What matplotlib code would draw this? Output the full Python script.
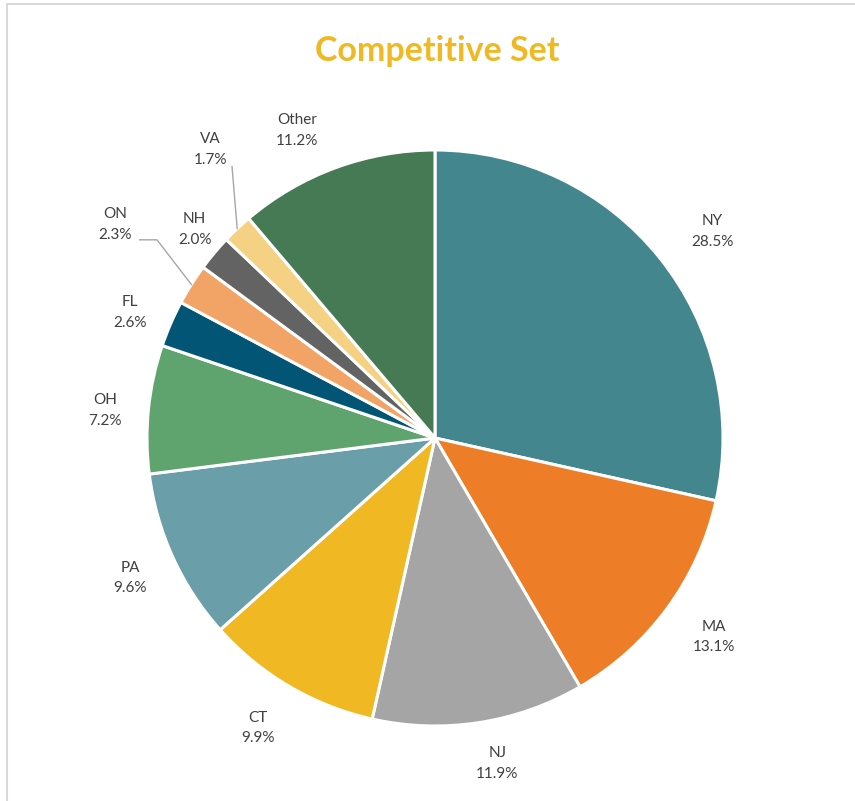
import matplotlib.pyplot as plt
import numpy as np
from matplotlib.lines import Line2D

# data
states = ['NY', 'MA', 'NJ', 'CT', 'PA', 'OH', 'FL', 'ON', 'NH', 'VA', 'Other']
shares = [28.5, 13.1, 11.9, 9.9, 9.6, 7.2, 2.6, 2.3, 2.0, 1.7, 11.2]
colors = ['#43868E', '#ED7D27', '#A5A5A5', '#F0B823', '#6A9FAA', '#5FA36E',
          '#035575', '#F2A366', '#636363', '#F5D184', '#467A55']

# label placement (radius, angle shift in degrees) per slice
lab_r = [1.20, 1.19, 1.15, 1.18, 1.165, 1.15, 1.145, 1.335, 1.105, 1.27, 1.17]
lab_da = [-2, 0.7, 2, -1, 0.2, 1, 1, -1.5, -1, -5.5, 4]
leader = ['ON', 'VA']

plt.rcParams['font.family'] = ['Lato', 'DejaVu Sans']

fig = plt.figure(figsize=(8.55, 8.01), dpi=100)
ax = fig.add_axes([147 / 855, 75 / 801, 576 / 855, 576 / 801])

wedges, _ = ax.pie(shares, colors=colors, startangle=90, counterclock=False,
                   radius=1.0, wedgeprops=dict(edgecolor='white', linewidth=2.2))
ax.set_xlim(-1, 1)
ax.set_ylim(-1, 1)
ax.set_aspect('equal')
ax.axis('off')

for w, name, val, r, da in zip(wedges, states, shares, lab_r, lab_da):
    mid = np.deg2rad((w.theta1 + w.theta2) / 2 + da)
    mid0 = np.deg2rad((w.theta1 + w.theta2) / 2)
    x, y = r * np.cos(mid), r * np.sin(mid)
    ax.text(x, y, f'{name}\n{val:.1f}%', ha='center', va='center',
            fontsize=11, color='#404040', linespacing=1.6, clip_on=False)
    if name in leader:
        ex, ey = 1.0 * np.cos(mid0), 1.0 * np.sin(mid0)
        if name == 'ON':
            sx, sy = x + 0.085, y - 0.053
            xs = [sx, sx + 0.06, ex]
            ys = [sy, sy, ey]
        else:
            sx, sy = x + 0.075, y - 0.06
            xs = [sx, ex]
            ys = [sy, ey]
        ax.plot(xs, ys, color='#A6A6A6', lw=1.0, clip_on=False)

fig.text(437 / 855, 1 - 51 / 801, 'Competitive Set', ha='center', va='center',
         fontsize=24.5, fontweight='bold', color='#F0B823')

# chart frame
fig.add_artist(Line2D([7 / 855, 7 / 855, 1], [0, 1 - 4 / 801, 1 - 4 / 801],
                      transform=fig.transFigure, color='#D9D9D9', lw=1.5))

fig.savefig('out.png', dpi=100)
